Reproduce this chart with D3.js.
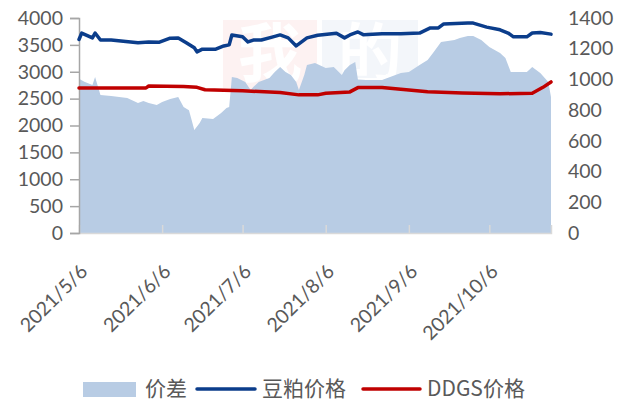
<!DOCTYPE html>
<html><head><meta charset="utf-8">
<script src="https://cdn.jsdelivr.net/npm/d3@7"></script>
<style>
html,body{margin:0;padding:0;background:#fff;}
svg{display:block;}
</style></head>
<body>
<svg id="chart" width="633" height="403"></svg>
<script>
// ---- data ----
const xTickLabels = ["2021/5/6","2021/6/6","2021/7/6","2021/8/6","2021/9/6","2021/10/6"];
const leftTicks = [0,500,1000,1500,2000,2500,3000,3500,4000];
const rightTicks = [0,200,400,600,800,1000,1200,1400];

// 价差 (right axis)
const spreadDates = ["2021-05-06","2021-05-08","2021-05-11","2021-05-12","2021-05-14","2021-05-18","2021-05-24","2021-05-28","2021-05-30","2021-06-01","2021-06-04","2021-06-06","2021-06-09","2021-06-12","2021-06-14","2021-06-16","2021-06-17","2021-06-18","2021-06-20","2021-06-21","2021-06-25","2021-06-28","2021-06-30","2021-07-01","2021-07-02","2021-07-04","2021-07-07","2021-07-09","2021-07-10","2021-07-12","2021-07-14","2021-07-16","2021-07-18","2021-07-20","2021-07-22","2021-07-24","2021-07-26","2021-07-27","2021-07-29","2021-07-30","2021-08-02","2021-08-06","2021-08-09","2021-08-12","2021-08-13","2021-08-15","2021-08-17","2021-08-18","2021-08-21","2021-08-27","2021-08-30","2021-09-03","2021-09-06","2021-09-10","2021-09-13","2021-09-15","2021-09-18","2021-09-23","2021-09-25","2021-09-28","2021-09-30","2021-10-03","2021-10-06","2021-10-10","2021-10-12","2021-10-14","2021-10-20","2021-10-22","2021-10-25","2021-10-28","2021-10-29"];
const spreadValues = [1005,985,963,1016,898,892,879,846,860,846,833,853,872,885,820,800,736,670,716,749,742,781,814,820,1016,1009,983,931,950,983,996,1009,1048,1081,1048,1029,983,931,1029,1094,1107,1074,1081,1029,1060,1094,1113,1000,996,996,1016,1042,1048,1094,1126,1172,1243,1257,1270,1283,1283,1257,1211,1172,1139,1048,1048,1081,1042,983,885];

// 豆粕价格 (left axis)
const soyDates = ["2021-05-06","2021-05-07","2021-05-11","2021-05-12","2021-05-14","2021-05-18","2021-05-28","2021-06-01","2021-06-05","2021-06-09","2021-06-12","2021-06-15","2021-06-18","2021-06-19","2021-06-21","2021-06-26","2021-06-29","2021-07-01","2021-07-02","2021-07-06","2021-07-08","2021-07-10","2021-07-13","2021-07-17","2021-07-20","2021-07-23","2021-07-26","2021-07-30","2021-08-03","2021-08-10","2021-08-13","2021-08-15","2021-08-18","2021-08-20","2021-08-27","2021-09-03","2021-09-10","2021-09-14","2021-09-17","2021-09-19","2021-09-28","2021-09-30","2021-10-05","2021-10-10","2021-10-13","2021-10-15","2021-10-20","2021-10-22","2021-10-25","2021-10-29"];
const soyPrices = [3600,3720,3630,3720,3590,3590,3540,3555,3550,3625,3630,3540,3445,3370,3420,3420,3480,3500,3685,3650,3555,3590,3590,3645,3685,3630,3480,3630,3680,3715,3630,3685,3740,3690,3705,3705,3720,3815,3815,3890,3905,3905,3830,3780,3720,3650,3650,3720,3730,3700];

// DDGS价格 (left axis)
const ddgsDates = ["2021-05-06","2021-05-31","2021-06-01","2021-06-14","2021-06-19","2021-06-22","2021-07-06","2021-07-20","2021-07-27","2021-08-03","2021-08-06","2021-08-15","2021-08-18","2021-08-27","2021-09-13","2021-09-26","2021-10-10","2021-10-22","2021-10-26","2021-10-29"];
const ddgsPrices = [2700,2700,2735,2725,2710,2665,2645,2615,2570,2570,2600,2625,2705,2705,2630,2605,2590,2600,2710,2810];

// ---- drawing ----
const parse = d3.timeParse("%Y-%m-%d");
const svg = d3.select("#chart");
const X0 = 79, X1 = 551, Y0 = 233, Y1 = 18;
const x = d3.scaleTime().domain([parse("2021-05-06"), parse("2021-10-29")]).range([X0, X1]);
const yL = d3.scaleLinear().domain([0,4000]).range([Y0,Y1]);
const yR = d3.scaleLinear().domain([0,1400]).range([Y0,Y1]);
const textColor = "#595959";
const numFont = "Lato, 'Open Sans', sans-serif";
const cjkFont = "'Noto Sans CJK SC', 'Noto Sans', sans-serif";

// watermark
const wm = svg.append("g").attr("opacity", 0.45);
wm.append("rect").attr("x",223).attr("y",20).attr("width",94).attr("height",70).attr("fill","#fbe3e3");
wm.append("rect").attr("x",322).attr("y",20).attr("width",96).attr("height",58).attr("fill","#e6ecf5");
wm.append("text").attr("x",270).attr("y",76).attr("text-anchor","middle").attr("font-size",64)
  .attr("font-family",cjkFont).attr("font-weight","bold").attr("fill","#ffffff").text("我");
wm.append("text").attr("x",370).attr("y",76).attr("text-anchor","middle").attr("font-size",64)
  .attr("font-family",cjkFont).attr("font-weight","bold").attr("fill","#ffffff").text("的");

// area
const spread = spreadDates.map((d,i)=>({d:parse(d), v:spreadValues[i]}));
svg.append("path").datum(spread)
  .attr("fill","#b8cce4")
  .attr("d", d3.area().x(p=>x(p.d)).y0(Y0).y1(p=>yR(p.v)));

// x axis
const tickDates = xTickLabels.map(s=>{const [yy,mm,dd]=s.split("/").map(Number);return new Date(yy,mm-1,dd);});
const xAxis = d3.axisBottom(x).tickValues(tickDates).tickSize(-8).tickFormat("");
const gx = svg.append("g").attr("transform",`translate(0,${Y0})`).call(xAxis);
gx.select(".domain").attr("stroke","#d9d9d9").attr("stroke-width",1.5);
gx.selectAll(".tick line").attr("stroke","#d9d9d9").attr("stroke-width",1.5);
gx.selectAll(".tick").filter((d,i)=>i===0).select("line").remove();
svg.append("g").selectAll("text").data(tickDates).join("text")
  .attr("transform",(d)=>`translate(${x(d)+5},${268}) rotate(-45)`)
  .attr("text-anchor","end").attr("dy","0.35em")
  .attr("font-family",numFont).attr("font-size",19.5).attr("fill",textColor)
  .text((d,i)=>xTickLabels[i]);

// left axis
const gl = svg.append("g").attr("transform",`translate(${X0},0)`)
  .call(d3.axisLeft(yL).tickValues(leftTicks).tickSize(9).tickPadding(7).tickFormat(d3.format("d")));
gl.select(".domain").attr("stroke","#a6a6a6").attr("stroke-width",1.5);
gl.selectAll(".tick line").attr("stroke","#a6a6a6").attr("stroke-width",1.5);
gl.selectAll("text").attr("font-family",numFont).attr("font-size",19.5).attr("fill",textColor);

// right axis (labels only)
const gr = svg.append("g").attr("transform",`translate(${X1},0)`)
  .call(d3.axisRight(yR).tickValues(rightTicks).tickSize(0).tickPadding(17).tickFormat(d3.format("d")));
gr.select(".domain").remove();
gr.selectAll("text").attr("font-family",numFont).attr("font-size",19.5).attr("fill",textColor);

// lines
const soy = soyDates.map((d,i)=>({d:parse(d), v:soyPrices[i]}));
const ddgs = ddgsDates.map((d,i)=>({d:parse(d), v:ddgsPrices[i]}));
const lineL = d3.line().x(p=>x(p.d)).y(p=>yL(p.v));
svg.append("path").datum(ddgs).attr("fill","none").attr("stroke","#c00000")
  .attr("stroke-width",3.5).attr("stroke-linejoin","round").attr("stroke-linecap","round").attr("d",lineL);
svg.append("path").datum(soy).attr("fill","none").attr("stroke","#0b3d8b")
  .attr("stroke-width",3.5).attr("stroke-linejoin","round").attr("stroke-linecap","round").attr("d",lineL);

// legend
const lg = svg.append("g");
const ly = 389;
lg.append("rect").attr("x",83).attr("y",382).attr("width",53).attr("height",15).attr("fill","#b8cce4");
lg.append("text").attr("x",145).attr("y",ly).attr("dy","0.35em").attr("font-family",cjkFont).attr("font-size",21).attr("fill",textColor).text("价差");
lg.append("line").attr("x1",197).attr("x2",255).attr("y1",ly).attr("y2",ly).attr("stroke","#0b3d8b").attr("stroke-width",3.5).attr("stroke-linecap","round");
lg.append("text").attr("x",262).attr("y",ly).attr("dy","0.35em").attr("font-family",cjkFont).attr("font-size",21).attr("fill",textColor).text("豆粕价格");
lg.append("line").attr("x1",363).attr("x2",420).attr("y1",ly).attr("y2",ly).attr("stroke","#c00000").attr("stroke-width",3.5).attr("stroke-linecap","round");
lg.append("text").attr("x",427).attr("y",ly).attr("dy","0.35em").attr("font-family",cjkFont).attr("font-size",21).attr("fill",textColor).text("DDGS价格");
</script>
</body></html>
